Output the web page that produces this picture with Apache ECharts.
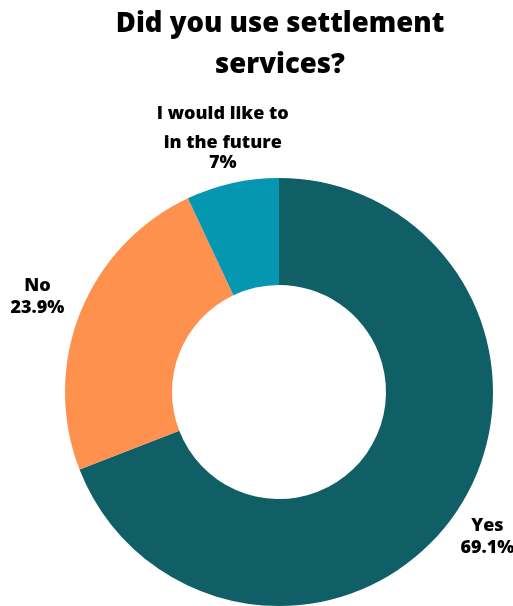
<!DOCTYPE html>
<html>
<head>
<meta charset="utf-8">
<script src="https://cdn.jsdelivr.net/npm/echarts@6/dist/echarts.min.js"></script>
<style>
  html, body { margin: 0; padding: 0; background: #ffffff; }
  #chart { width: 513px; height: 606px; }
</style>
</head>
<body>
<div id="chart"></div>
<script>
// Survey answers and their shares (%)
const categories = ['Yes', 'No', 'I would like to in the future'];
const shares = [69.1, 23.9, 7];
const colors = ['#115f66', '#fd914d', '#0596b2'];

const FONT = "'Open Sans', 'Noto Sans', sans-serif";

const chart = echarts.init(document.getElementById('chart'), null, { renderer: 'canvas' });

const ringData = categories.map((name, i) => ({
  name: name,
  value: shares[i],
  itemStyle: { color: colors[i] }
}));

// Label nudges (padding) so each block clears its slice evenly
const labelPadding = [[0, 9, 3, 0], [0, 4, 0, 0], [0, 0, 12, 0]];

// Labels sit on an invisible outer ring so they are centred on each slice's mid-angle
const labelData = categories.map((name, i) => ({
  name: name,
  value: shares[i],
  itemStyle: { color: 'rgba(0,0,0,0)' },
  label: { padding: labelPadding[i] }
}));

const labelFormatter = (p) => {
  if (p.dataIndex === 2) {
    return '{t|I would like to}\n{m|in the future}\n{v|' + p.value + '%}';
  }
  return '{n|' + p.name + '}\n{v|' + p.value + '%}';
};

const textStyle = { fontFamily: FONT, fontWeight: 800, fontSize: 18, color: '#000' };

chart.setOption({
  animation: false,
  title: {
    text: 'Did you use settlement\nservices?',
    left: 280,
    textAlign: 'center',
    top: 4,
    padding: 0,
    textStyle: {
      fontFamily: FONT,
      fontWeight: 800,
      fontSize: 27.5,
      lineHeight: 41,
      color: '#000'
    }
  },
  series: [
    {
      type: 'pie',
      center: [279, 392],
      radius: [107, 214],
      startAngle: 90,
      clockwise: true,
      silent: true,
      label: { show: false },
      labelLine: { show: false },
      data: ringData
    },
    {
      type: 'pie',
      center: [279, 392],
      radius: [250, 260],
      startAngle: 90,
      clockwise: true,
      silent: true,
      labelLine: { show: false },
      label: {
        show: true,
        position: 'inside',
        formatter: labelFormatter,
        rich: {
          n: Object.assign({ lineHeight: 23 }, textStyle),
          v: Object.assign({ lineHeight: 21 }, textStyle),
          t: Object.assign({ lineHeight: 38 }, textStyle),
          m: Object.assign({ lineHeight: 20 }, textStyle)
        }
      },
      data: labelData
    }
  ]
});
</script>
</body>
</html>
